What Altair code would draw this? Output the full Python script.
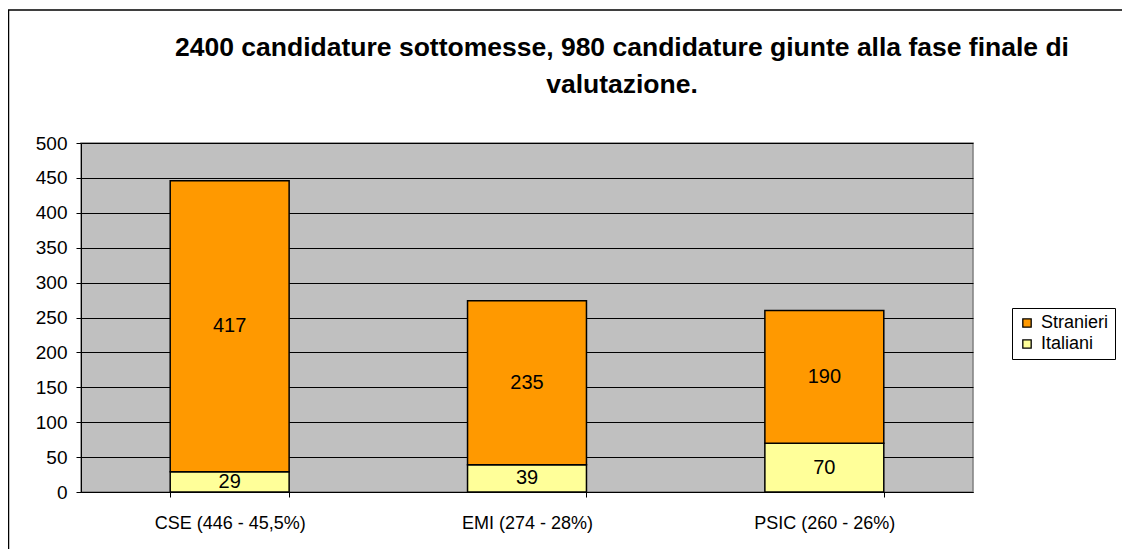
import altair as alt
import pandas as pd

categories = ["CSE (446 - 45,5%)", "EMI (274 - 28%)", "PSIC (260 - 26%)"]
italiani = [29, 39, 70]
stranieri = [417, 235, 190]
series = ["Stranieri", "Italiani"]
colors = ["#FF9900", "#FFFF99"]
title_lines = ["2400 candidature sottomesse, 980 candidature giunte alla fase finale di",
               "valutazione."]

rows = []
for c, i, s in zip(categories, italiani, stranieri):
    rows.append({"cat": c, "serie": "Italiani", "val": i, "ord": 0})
    rows.append({"cat": c, "serie": "Stranieri", "val": s, "ord": 1})
df = pd.DataFrame(rows)

W, H = 892, 349
FONT = "Liberation Sans"

yscale = alt.Scale(domain=[0, 500], nice=False)
xscale = alt.Scale(paddingInner=0.6, paddingOuter=0.3)
yaxis = alt.Axis(values=list(range(0, 501, 50)), labelFontSize=19,
                 labelFont=FONT, labelColor="black", labelPadding=9,
                 tickColor="black", tickSize=5, domainColor="black",
                 gridColor="black", gridOpacity=1, gridWidth=1)
xaxis = alt.Axis(labelAngle=0, labelFontSize=18, labelColor="black",
                 labelFont=FONT, labelPadding=17, tickBand="extent",
                 tickColor="black", tickSize=5, domainColor="black",
                 grid=False)

base = alt.Chart(df).transform_stack(
    stack="val", groupby=["cat"], as_=["y0", "y1"],
    sort=[alt.SortField("ord", order="ascending")]
).transform_calculate(mid="(datum.y0 + datum.y1) / 2")

bars = base.mark_bar(stroke="black", strokeWidth=1.5).encode(
    x=alt.X("cat:N", sort=categories, title=None, scale=xscale, axis=xaxis),
    y=alt.Y("y0:Q", title=None, scale=yscale, axis=yaxis),
    y2="y1:Q",
    color=alt.Color("serie:N", scale=alt.Scale(domain=series, range=colors),
                    legend=alt.Legend(title=None, orient="none", legendX=931,
                                      legendY=165, strokeColor="black",
                                      fillColor="white", padding=6,
                                      labelFontSize=18, labelFont=FONT,
                                      labelColor="black", symbolType="square",
                                      symbolSize=70, symbolStrokeColor="black",
                                      symbolStrokeWidth=1.3, rowPadding=3,
                                      labelOffset=5)),
)

labels = base.mark_text(fontSize=20, font=FONT, color="black").encode(
    x=alt.X("cat:N", sort=categories, title=None, scale=xscale, axis=xaxis),
    y=alt.Y("mid:Q", title=None, scale=yscale, axis=yaxis),
    text="val:Q",
)

tdf = pd.DataFrame({"t": [0]})
t1 = alt.Chart(tdf).mark_text(text=title_lines[0], fontSize=26.5, font=FONT,
                              fontWeight="bold", color="black", clip=False).encode(
    x=alt.value(541), y=alt.value(-95))
t2 = alt.Chart(tdf).mark_text(text=title_lines[1], fontSize=26.5, font=FONT,
                              fontWeight="bold", color="black", clip=False).encode(
    x=alt.value(541), y=alt.value(-58))

frame = alt.Chart(tdf).mark_rect(
    fillOpacity=0, stroke="black", strokeWidth=1.5, clip=False
).encode(x=alt.value(-72.5), x2=alt.value(W + 300), y=alt.value(-133),
         y2=alt.value(H + 200))

chart = alt.layer(bars, labels, t1, t2, frame).properties(
    width=W, height=H,
    autosize=alt.AutoSizeParams(type="none"),
    padding={"left": 73, "top": 135, "right": 149, "bottom": 57},
    background="white",
).configure_view(fill="#C0C0C0", stroke="#808080", strokeWidth=1.5)

chart.save("out.html", embed_options={"renderer": "svg", "actions": False})
